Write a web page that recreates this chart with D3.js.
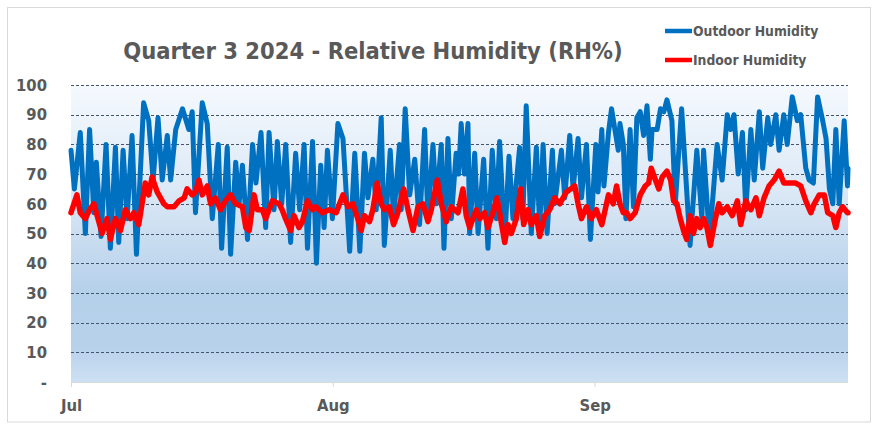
<!DOCTYPE html>
<html>
<head>
<meta charset="utf-8">
<script src="https://cdn.jsdelivr.net/npm/d3@7"></script>
<style>
  html, body { margin: 0; padding: 0; background: #ffffff; }
  svg { display: block; }
  text { font-family: "DejaVu Sans Condensed", "Liberation Sans Narrow", "Liberation Sans", sans-serif; font-weight: bold; fill: #595959; }
</style>
</head>
<body>
<svg id="chart" width="879" height="429"></svg>
<script>
// ---------------- DATA ----------------
const chartTitle = "Quarter 3 2024 - Relative Humidity (RH%)";
const seriesNames = ["Outdoor Humidity", "Indoor Humidity"];
const monthLabels = ["Jul", "Aug", "Sep"];
const yTicks = [0, 10, 20, 30, 40, 50, 60, 70, 80, 90, 100];

// days after 1 Jul 2024 00:00 (turning points of the trace)
const outdoorDays = [
  0, 0.4, 1.1, 1.7, 2.2, 2.7, 3.0, 3.56, 4.15, 4.66, 5.26, 5.65, 6.17, 6.64, 7.23, 7.75,
  8.6, 9.2, 9.72, 10.3, 10.8, 11.4, 11.8, 12.4, 13.2, 13.95, 14.35, 14.74,
  15.54, 16.13, 16.73, 17.44, 17.83, 18.5, 18.9, 19.5, 19.9, 20.3, 20.9, 21.5, 21.9,
  22.5, 23.05, 23.45, 24.04, 24.43, 24.95, 25.42, 26.0, 26.6, 27.08, 27.6, 28.0, 28.6,
  29.06, 29.57, 29.97, 30.36, 30.95,
  31.6, 32.2, 33.0, 33.6, 34.2, 34.75, 35.15, 35.74, 36.14, 36.73, 37.1, 37.8, 38.2,
  38.9, 39.1, 39.57, 40.1, 40.7, 41.27, 41.87, 42.26, 42.86, 43.25, 43.84, 44.16, 44.63,
  45.03, 45.6, 45.9, 46.2, 46.6, 47.0,
  47.2, 47.8, 48.2, 48.86, 49.37, 49.88, 50.36, 50.75, 51.35, 51.86, 52.33, 53.12, 53.5,
  53.9, 54.5, 55.1, 55.5, 55.9, 56.37, 57.0, 57.27, 58.07, 58.46, 59.05, 59.45, 60.04,
  60.44, 61.03, 61.5, 62.14, 62.4, 62.85,
  63.1, 63.64, 64.0, 64.4, 64.8, 65.0, 65.4, 65.7, 66.2, 66.6, 67.0, 67.4, 67.8, 68.2,
  68.6, 68.8, 69.4, 69.8, 70.2, 70.56, 71.15, 71.55, 72.3, 73.3, 74.1, 74.7, 74.9, 75.6,
  76.5, 77.1, 77.7, 78.1, 78.5, 79.0,
  79.5, 79.9, 80.5, 80.9, 81.5, 81.9, 82.5, 82.85, 83.45, 83.84, 84.4, 84.8, 85.4, 86.0,
  86.4, 87.0, 87.4, 87.9, 88.4, 89.0, 89.4, 89.8, 90.2, 90.56, 90.96, 91.55, 91.94, 92.0
];
const outdoorRH = [
  78, 65, 84, 50, 85, 57, 74, 49, 80, 45, 79, 47, 78, 55, 83, 43,
  94, 88, 68, 89, 68, 83, 68, 85, 92, 85, 91, 57,
  94, 87, 55, 80, 45, 79, 43, 74, 60, 73, 48, 80, 67,
  84, 52, 84, 58, 81, 60, 80, 47, 77, 58, 80, 45, 81,
  40, 73, 52, 78, 55,
  87, 82, 44, 77, 44, 77, 62, 75, 58, 89, 46, 78, 55,
  80, 58, 92, 63, 75, 53, 85, 55, 80, 60, 80, 45, 82,
  55, 77, 70, 87, 70, 87,
  50, 77, 50, 75, 45, 78, 55, 81, 47, 76, 55, 79, 55,
  93, 50, 79, 52, 80, 50, 78, 60, 78, 62, 83, 65, 82,
  62, 80, 48, 80, 64, 85,
  66, 84, 92, 85, 78, 87, 80, 55, 85, 59, 89, 91, 83, 93,
  75, 85, 85, 92, 91, 95, 88, 60, 92, 46, 78, 55, 78, 48,
  80, 68, 90, 85, 90, 70,
  84, 58, 85, 68, 91, 72, 89, 80, 90, 78, 90, 80, 96, 88,
  90, 72, 68, 67, 96, 88, 82, 65, 60, 85, 60, 88, 66, 72
];

const indoorDays = [
  0, 0.7, 1.1, 1.7, 2.2, 2.7, 3.1, 3.68, 4.27, 4.66, 5.26, 5.85, 6.44, 7.04, 7.43, 8.02,
  8.8, 9.2, 9.6, 10.2, 10.6, 11.0, 11.4, 12.2, 12.8, 13.4, 13.75, 14.35, 14.75, 15.15,
  15.54, 16.13, 16.53, 17.1, 17.7, 18.3, 18.9, 19.5, 20.3, 20.7, 21.1, 21.67, 22.06,
  22.65, 23.05, 23.84, 24.63, 25.0, 25.4, 26.0, 26.4, 27.0, 27.4, 28.0, 28.6, 29.0,
  29.77, 30.56,
  31.4, 32.2, 32.8, 33.37, 33.96, 34.36, 34.75, 35.35, 35.74, 36.25, 36.73, 37.12, 37.7,
  38.2, 38.7, 39.4, 39.9, 40.5, 41.08, 41.67, 42.26, 42.66, 43.37, 43.84, 44.44, 45.03,
  45.82, 46.4, 46.8,
  47.2, 48.0, 48.4, 48.97, 49.37, 49.96, 50.44, 50.75, 51.35, 51.74, 52.14, 52.73, 53.24,
  53.6, 54.1, 54.5, 55.1, 55.5, 56.1, 56.68, 57.27, 57.87, 58.66, 59.65, 60.04, 60.44,
  61.03, 61.6, 62.2, 62.85, 63.25,
  63.64, 64.2, 64.6, 65.0, 65.4, 65.8, 66.2, 66.8, 67.4, 68.0, 68.4, 68.7, 69.2, 69.6,
  70.0, 70.56, 71.0, 71.35, 71.74, 72.14, 72.53, 72.9, 73.3, 73.7, 74.1, 74.5, 74.9,
  75.3, 75.7, 76.3, 76.7, 77.1, 77.7, 78.3, 78.9,
  79.3, 79.9, 80.5, 81.1, 81.5, 82.06, 82.65, 83.25, 83.84, 84.4, 85.2, 85.8, 86.4,
  87.0, 87.6, 88.0, 88.6, 89.2, 89.6, 90.2, 90.56, 90.96, 91.35, 91.94, 92.0
];
const indoorRH = [
  57, 63, 57, 55, 58, 60, 56, 50, 55, 48, 55, 51, 58, 55, 57, 53,
  67, 63, 69, 64, 62, 60, 59, 59, 61, 62, 65, 63, 64, 68,
  63, 66, 60, 62, 58, 61, 63, 60, 59, 52, 51, 63, 58,
  58, 55, 61, 60, 58, 55, 51, 56, 52, 54, 61, 58, 59,
  57, 58,
  57, 63, 59, 60, 55, 51, 56, 54, 58, 67, 60, 58, 59,
  53, 57, 65, 58, 51, 59, 60, 54, 58, 68, 60, 54, 59,
  57, 65, 56,
  52, 58, 55, 57, 52, 57, 62, 57, 47, 53, 50, 55, 65,
  53, 58, 53, 56, 49, 56, 58, 62, 60, 64, 66, 60, 55,
  59, 55, 58, 53, 58,
  63, 60, 66, 60, 57, 57, 55, 57, 63, 66, 67, 72, 68, 65,
  69, 71, 68, 61, 60, 55, 51, 48, 56, 50, 55, 52, 55,
  52, 46, 55, 60, 57, 59, 56, 61,
  53, 61, 58, 62, 56, 62, 66, 68, 71, 67, 67, 67, 66,
  61, 57, 60, 63, 63, 57, 56, 52, 57, 59, 57, 57
];

// ---------------- DRAWING ----------------
const W = 879, H = 429;
const plot = { left: 71, right: 848, top: 85, bottom: 382 };
const start = Date.UTC(2024, 6, 1);
const end = Date.UTC(2024, 9, 1);
const dayMs = 86400000;
const toDate = d => new Date(start + d * dayMs);
const fontFam = '"DejaVu Sans Condensed", "Liberation Sans Narrow", sans-serif';

const svg = d3.select("#chart");

// outer chart border
svg.append("rect")
  .attr("x", 7.5).attr("y", 7.5).attr("width", 863).attr("height", 414.5)
  .attr("fill", "#ffffff").attr("stroke", "#d9d9d9").attr("stroke-width", 1);

const x = d3.scaleUtc().domain([new Date(start), new Date(end)]).range([plot.left, plot.right]);
const y = d3.scaleLinear().domain([0, 100]).range([plot.bottom, plot.top]);

// gradient background
const defs = svg.append("defs");
const grad = defs.append("linearGradient").attr("id", "bg").attr("x1", 0).attr("y1", 0).attr("x2", 0).attr("y2", 1);
[["0%", "#f5f9fe"], ["35%", "#dce9f6"], ["70%", "#b5d0ea"], ["88%", "#b7d1eb"], ["100%", "#cde0f3"]]
  .forEach(([o, c]) => grad.append("stop").attr("offset", o).attr("stop-color", c));
svg.append("rect")
  .attr("x", plot.left).attr("y", plot.top)
  .attr("width", plot.right - plot.left).attr("height", plot.bottom - plot.top)
  .attr("fill", "url(#bg)");

// gridlines
svg.append("g").selectAll("line")
  .data(yTicks.filter(t => t > 0)).join("line")
  .attr("x1", plot.left).attr("x2", plot.right)
  .attr("y1", d => Math.round(y(d)) + 0.5).attr("y2", d => Math.round(y(d)) + 0.5)
  .attr("stroke", "#44546a").attr("stroke-width", 1).attr("stroke-dasharray", "3,2");

// x axis line
svg.append("line")
  .attr("x1", plot.left).attr("x2", plot.right)
  .attr("y1", plot.bottom + 0.5).attr("y2", plot.bottom + 0.5)
  .attr("stroke", "#d9d9d9").attr("stroke-width", 1);

// y axis labels
const yAxis = d3.axisLeft(y).tickValues(yTicks)
  .tickFormat(d => d === 0 ? "-" : d3.format("d")(d)).tickSize(0).tickPadding(24);
const gy = svg.append("g").attr("transform", `translate(${plot.left},0)`).call(yAxis);
gy.select(".domain").remove();
gy.selectAll("text").style("font-size", "16.5px").attr("fill", "#595959")
  .style("font-family", fontFam).style("font-weight", "bold");

// x axis
const monthDates = monthLabels.map((m, i) => new Date(Date.UTC(2024, 6 + i, 1)));
const xAxis = d3.axisBottom(x).tickValues(monthDates)
  .tickFormat((d, i) => monthLabels[i]).tickSize(5).tickPadding(12);
const gx = svg.append("g").attr("transform", `translate(0,${plot.bottom})`).call(xAxis);
gx.select(".domain").remove();
gx.selectAll("line").attr("stroke", "#d9d9d9");
gx.selectAll("text").style("font-size", "16.5px").attr("fill", "#595959")
  .style("font-family", fontFam).style("font-weight", "bold");

// lines
const line = d3.line().x(d => x(d[0])).y(d => y(d[1]));
const outdoor = outdoorDays.map((d, i) => [toDate(d), outdoorRH[i]]);
const indoor = indoorDays.map((d, i) => [toDate(d), indoorRH[i]]);
const colors = ["#0070c0", "#ff0000"];

svg.append("path").datum(outdoor).attr("d", line)
  .attr("fill", "none").attr("stroke", colors[0]).attr("stroke-width", 5)
  .attr("stroke-linejoin", "round").attr("stroke-linecap", "round");
svg.append("path").datum(indoor).attr("d", line)
  .attr("fill", "none").attr("stroke", colors[1]).attr("stroke-width", 5.5)
  .attr("stroke-linejoin", "round").attr("stroke-linecap", "round");

// title
svg.append("text").attr("x", 373).attr("y", 59).attr("text-anchor", "middle")
  .style("font-size", "23.5px").text(chartTitle);

// legend
const legendY = [31, 60];
seriesNames.forEach((name, i) => {
  const g = svg.append("g");
  g.append("line").attr("x1", 665).attr("x2", 692).attr("y1", legendY[i]).attr("y2", legendY[i])
    .attr("stroke", colors[i]).attr("stroke-width", 4.5);
  g.append("text").attr("x", 693).attr("y", legendY[i] + 5).style("font-size", "13.8px").text(name);
});
</script>
</body>
</html>
